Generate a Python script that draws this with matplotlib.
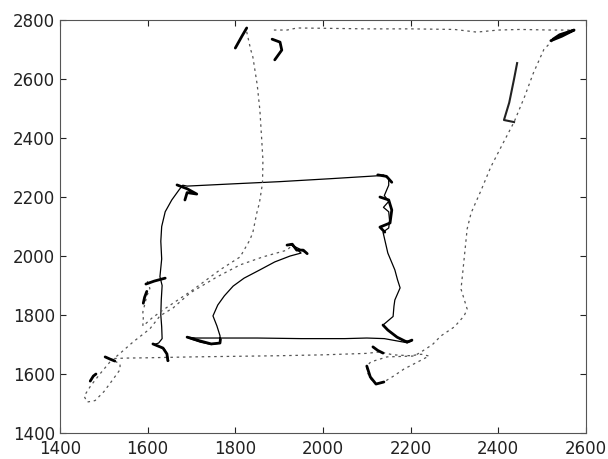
import matplotlib
matplotlib.use("Agg")
import matplotlib.pyplot as plt

# solid trajectory
solid_x = [1960, 1945, 1925, 1935, 1950, 1925, 1890, 1856, 1820, 1795, 1775, 1760, 1749, 1758,
           1765, 1766, 1745, 1720, 1700, 1690, 1710, 1765, 1850, 1950, 2050, 2100, 2140, 2192,
           2203, 2185, 2169, 2148, 2137, 2160, 2162, 2164, 2176, 2170, 2164, 2148, 2137, 2150,
           2152, 2150, 2138, 2150, 2140, 2150, 2150, 2138, 2125, 2016, 1900, 1800, 1690, 1680,
           1672, 1655, 1640, 1632, 1630, 1632, 1628, 1633, 1631, 1630, 1632, 1633, 1625, 1615,
           1638, 1644, 1648]
solid_y = [2012, 2025, 2040, 2030, 2010, 2000, 1980, 1953, 1925, 1898, 1865, 1834, 1797, 1763,
           1730, 1705, 1700, 1708, 1718, 1725, 1722, 1722, 1722, 1720, 1720, 1722, 1720, 1706,
           1712, 1712, 1725, 1749, 1766, 1795, 1830, 1851, 1892, 1920, 1953, 2010, 2081, 2095,
           2120, 2150, 2165, 2185, 2205, 2240, 2262, 2275, 2272, 2262, 2252, 2245, 2237, 2240,
           2225, 2190, 2150, 2100, 2050, 1990, 1930, 1900, 1850, 1800, 1760, 1720, 1705, 1700,
           1685, 1668, 1645]

# dashed trajectories
dash_a_x = [1514, 1491, 1470, 1455, 1462, 1480, 1500, 1520, 1537, 1537, 1520, 1514, 1550, 1600,
            1700, 1800, 1900, 2000, 2100, 2130, 2160, 2200, 2224, 2242, 2215, 2185, 2160, 2139,
            2121, 2108, 2100, 2100, 2109, 2146, 2208, 2224, 2250, 2269, 2300, 2322, 2329, 2315,
            2320, 2329, 2338, 2360, 2383, 2410, 2436, 2460, 2480, 2504, 2530, 2566, 2520, 2450,
            2400, 2351, 2300, 2200, 2100, 2000, 1941, 1918, 1886]
dash_a_y = [1641, 1600, 1560, 1525, 1505, 1510, 1540, 1580, 1615, 1634, 1648, 1652, 1654, 1655,
            1658, 1660, 1662, 1665, 1670, 1675, 1665, 1662, 1667, 1661, 1640, 1617, 1592, 1573,
            1566, 1585, 1610, 1627, 1641, 1658, 1661, 1675, 1700, 1729, 1760, 1797, 1820, 1888,
            1960, 2092, 2146, 2220, 2302, 2380, 2454, 2540, 2620, 2700, 2740, 2766, 2766, 2768,
            2766, 2759, 2768, 2770, 2770, 2772, 2773, 2766, 2766]

dash_b_x = [1826, 1835, 1840, 1850, 1856, 1860, 1863, 1862, 1855, 1849, 1840, 1833, 1811, 1765,
            1703, 1635, 1610, 1595, 1589, 1590, 1589, 1598, 1605, 1598]
dash_b_y = [2760, 2700, 2675, 2580, 2495, 2400, 2325, 2247, 2180, 2146, 2080, 2054, 1997, 1953,
            1885, 1817, 1790, 1770, 1763, 1790, 1810, 1864, 1890, 1920]

dash_c_x = [1925, 1918, 1863, 1811, 1758, 1697, 1658, 1628, 1605, 1567, 1537, 1514]
dash_c_y = [2030, 2020, 1997, 1970, 1929, 1875, 1824, 1797, 1753, 1709, 1670, 1641]

# dense clusters where the vehicle stalled
blobs = [
    ([1667, 1690, 1712, 1690, 1685], [2241, 2228, 2210, 2215, 2190]),
    ([2125, 2145, 2157], [2275, 2270, 2250]),
    ([2130, 2150, 2157, 2153, 2130, 2141], [2200, 2190, 2156, 2112, 2098, 2081]),
    ([2137, 2148, 2169, 2192, 2203], [1766, 1749, 1725, 1708, 1715]),
    ([2114, 2125, 2137], [1692, 1680, 1671]),
    ([1690, 1720, 1745, 1765, 1766], [1725, 1712, 1702, 1705, 1718]),
    ([1612, 1635, 1644, 1646], [1702, 1688, 1668, 1645]),
    ([1596, 1615, 1640], [1905, 1915, 1925]),
    ([1590, 1593, 1598], [1840, 1860, 1880]),
    ([1469, 1476, 1482], [1576, 1593, 1600]),
    ([1503, 1515, 1525], [1658, 1650, 1644]),
    ([1826, 1815, 1800], [2773, 2745, 2705]),
    ([1884, 1902, 1906, 1890], [2735, 2725, 2698, 2665]),
    ([2520, 2545, 2573, 2540, 2525], [2730, 2745, 2766, 2750, 2735]),
    ([1918, 1930, 1940, 1955, 1964], [2037, 2040, 2020, 2020, 2008]),
    ([2100, 2108, 2121, 2139], [1627, 1590, 1566, 1573]),
]
streak_x = [2443, 2436, 2425, 2413, 2436]
streak_y = [2654, 2600, 2520, 2461, 2454]

fig = plt.figure(figsize=(6.08, 4.59), dpi=100)
ax = fig.add_axes([0.0987, 0.0566, 0.865, 0.8998])

dash = (0, (2, 3))
ax.plot(solid_x, solid_y, color="black", lw=0.9)
for dx, dy in [(dash_a_x, dash_a_y), (dash_b_x, dash_b_y), (dash_c_x, dash_c_y)]:
    ax.plot(dx, dy, color="#555555", lw=0.9, linestyle=dash)
for bx, by in blobs:
    ax.plot(bx, by, color="black", lw=2.0, solid_capstyle="round")
ax.plot(streak_x, streak_y, color="#222222", lw=1.5)

ax.set_xlim(1400, 2600)
ax.set_ylim(1400, 2800)
ax.set_xticks(range(1400, 2601, 200))
ax.set_yticks(range(1400, 2801, 200))
ax.tick_params(direction="in", top=True, right=True, length=4, labelsize=12,
               colors="#222222")
ax.tick_params(axis="x", pad=5)
for s in ax.spines.values():
    s.set_color("#555555")

fig.savefig("out.png", dpi=100)
